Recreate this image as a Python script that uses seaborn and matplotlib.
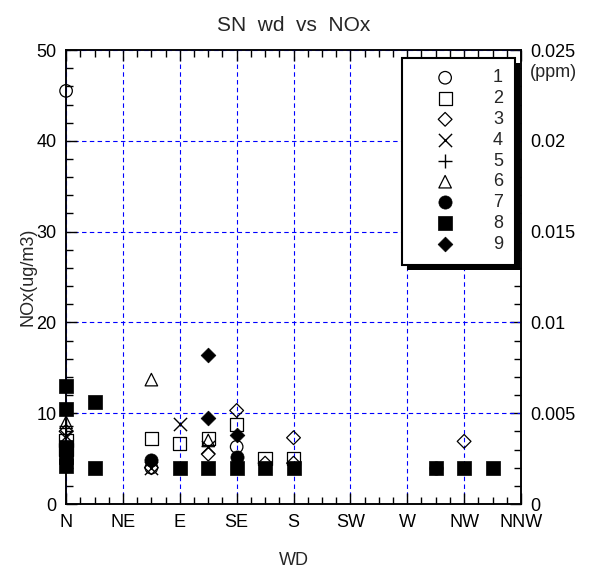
import matplotlib
matplotlib.use("Agg")
import matplotlib.pyplot as plt
from matplotlib.ticker import MultipleLocator, FixedLocator
from matplotlib.patches import Rectangle
import seaborn as sns
import pandas as pd

# ---- data (wind direction in degrees, NOx in ug/m3) ----
dir_labels = ["N", "NE", "E", "SE", "S", "SW", "W", "NW", "NNW"]
dir_ticks = [0, 45, 90, 135, 180, 225, 270, 315, 360]
ppm_ticks = [0, 0.005, 0.01, 0.015, 0.02, 0.025]
ppm_labels = ["0", "0.005", "0.01", "0.015", "0.02", "0.025"]

s1_x = [0, 67.5, 135]
s1_y = [45.5, 4.0, 6.3]
s2_x = [0, 0, 67.5, 90, 112.5, 135, 157.5, 180]
s2_y = [7.0, 6.0, 7.2, 6.7, 7.2, 8.8, 5.0, 5.0]
s3_x = [0, 67.5, 112.5, 135, 157.5, 180, 180, 315]
s3_y = [8.0, 4.0, 5.5, 10.3, 4.5, 7.3, 4.5, 6.9]
s4_x = [0, 67.5, 90, 112.5]
s4_y = [7.5, 4.0, 8.8, 6.3]
s5_x = [0]
s5_y = [8.6]
s6_x = [0, 67.5, 112.5]
s6_y = [9.0, 13.7, 7.0]
s7_x = [0, 67.5, 135, 292.5]
s7_y = [5.0, 4.8, 5.2, 4.0]
s8_x = [0, 0, 0, 0, 0, 22.5, 22.5, 90, 112.5, 135, 157.5, 180, 292.5, 315, 337.5]
s8_y = [13.0, 10.5, 6.3, 5.2, 4.2, 11.2, 4.0, 4.0, 4.0, 4.0, 4.0, 4.0, 4.0, 4.0, 4.0]
s9_x = [112.5, 112.5, 135]
s9_y = [16.4, 9.5, 7.6]

series = [
    ("1", s1_x, s1_y, "o", False, 9),
    ("2", s2_x, s2_y, "s", False, 9.5),
    ("3", s3_x, s3_y, "D", False, 7),
    ("4", s4_x, s4_y, "x", True, 9.5),
    ("5", s5_x, s5_y, "+", True, 9.5),
    ("6", s6_x, s6_y, "^", False, 9),
    ("7", s7_x, s7_y, "o", True, 9.5),
    ("8", s8_x, s8_y, "s", True, 10.5),
    ("9", s9_x, s9_y, "D", True, 7.5),
]

sns.set_style("white")
plt.rcParams["font.family"] = ["Liberation Sans", "DejaVu Sans"]
plt.rcParams["font.size"] = 13

fig = plt.figure(figsize=(5.9, 5.73), dpi=100)
ax = fig.add_axes([0.112, 0.1204, 0.771, 0.7923])

for name, xs, ys, mk, filled, ms in series:
    df = pd.DataFrame({"WD": xs, "NOx": ys})
    if mk in ("x", "+"):
        sns.scatterplot(data=df, x="WD", y="NOx", marker=mk, s=ms**2,
                        color="black", linewidth=1.0, ax=ax, label=name,
                        zorder=3, clip_on=False)
    elif filled:
        sns.scatterplot(data=df, x="WD", y="NOx", marker=mk, s=ms**2,
                        color="black", edgecolor="black", linewidth=0.5,
                        ax=ax, label=name, zorder=3, clip_on=False)
    else:
        sns.scatterplot(data=df, x="WD", y="NOx", marker=mk, s=ms**2,
                        facecolor="none", edgecolor="black", linewidth=0.9,
                        ax=ax, label=name, zorder=3, clip_on=False)

ax.set_xlim(0, 360)
ax.set_ylim(0, 50)
ax.xaxis.set_major_locator(FixedLocator(dir_ticks))
ax.set_xticklabels(dir_labels)
ax.xaxis.set_minor_locator(MultipleLocator(11.25))
ax.yaxis.set_major_locator(MultipleLocator(10))
ax.yaxis.set_minor_locator(MultipleLocator(2))
ax.tick_params(which="both", direction="in", top=True, right=False,
               bottom=True, left=True, colors="black", labelsize=13)
ax.tick_params(which="major", length=8, width=1, pad=7)
ax.tick_params(which="minor", length=5, width=1)
ax.grid(True, which="major", color="blue", linestyle=(0, (4, 3)), linewidth=0.8)
ax.set_axisbelow(True)
for sp in ax.spines.values():
    sp.set_color("black")
    sp.set_linewidth(1.2)

ax.set_xlabel("WD", fontsize=13, labelpad=15)
ax.set_ylabel("NOx(ug/m3)", fontsize=13, labelpad=0)
ax.set_title("SN  wd  vs  NOx", fontsize=15, pad=14)

ax2 = ax.twinx()
ax2.set_ylim(0, 0.025)
ax2.yaxis.set_major_locator(FixedLocator(ppm_ticks))
ax2.set_yticklabels(ppm_labels)
ax2.yaxis.set_minor_locator(MultipleLocator(0.001))
ax2.tick_params(which="both", direction="in", labelsize=13, colors="black")
ax2.tick_params(which="major", length=8, width=1, pad=7)
ax2.tick_params(which="minor", length=5, width=1)
ax2.grid(False)
for sp in ax2.spines.values():
    sp.set_linewidth(1.2)
ax2.text(1.02, 0.95, "(ppm)", transform=ax.transAxes, fontsize=13,
         ha="left", va="center")

leg = ax.legend(loc="upper left", bbox_to_anchor=(0.738, 0.983),
                frameon=True, fancybox=False, edgecolor="black",
                fontsize=13, labelspacing=0.21, handletextpad=0.9,
                borderpad=0.65, handlelength=3.5, borderaxespad=0)
leg.get_frame().set_linewidth(1.5)
leg.get_frame().set_alpha(1.0)
leg.set_zorder(10)
ax.set_zorder(ax2.get_zorder() + 1)
ax.patch.set_visible(False)

# thick drop shadow behind the legend box
fig.canvas.draw()
bb = leg.get_frame().get_window_extent(fig.canvas.get_renderer())
W, H = fig.bbox.width, fig.bbox.height
shadow = Rectangle(((bb.x0 + 5) / W, (bb.y0 - 5) / H), bb.width / W, bb.height / H,
                   transform=fig.transFigure, facecolor="black", edgecolor="none",
                   zorder=9)
ax.add_artist(shadow)
shadow.set_clip_on(False)

fig.savefig("out.png", dpi=100)
